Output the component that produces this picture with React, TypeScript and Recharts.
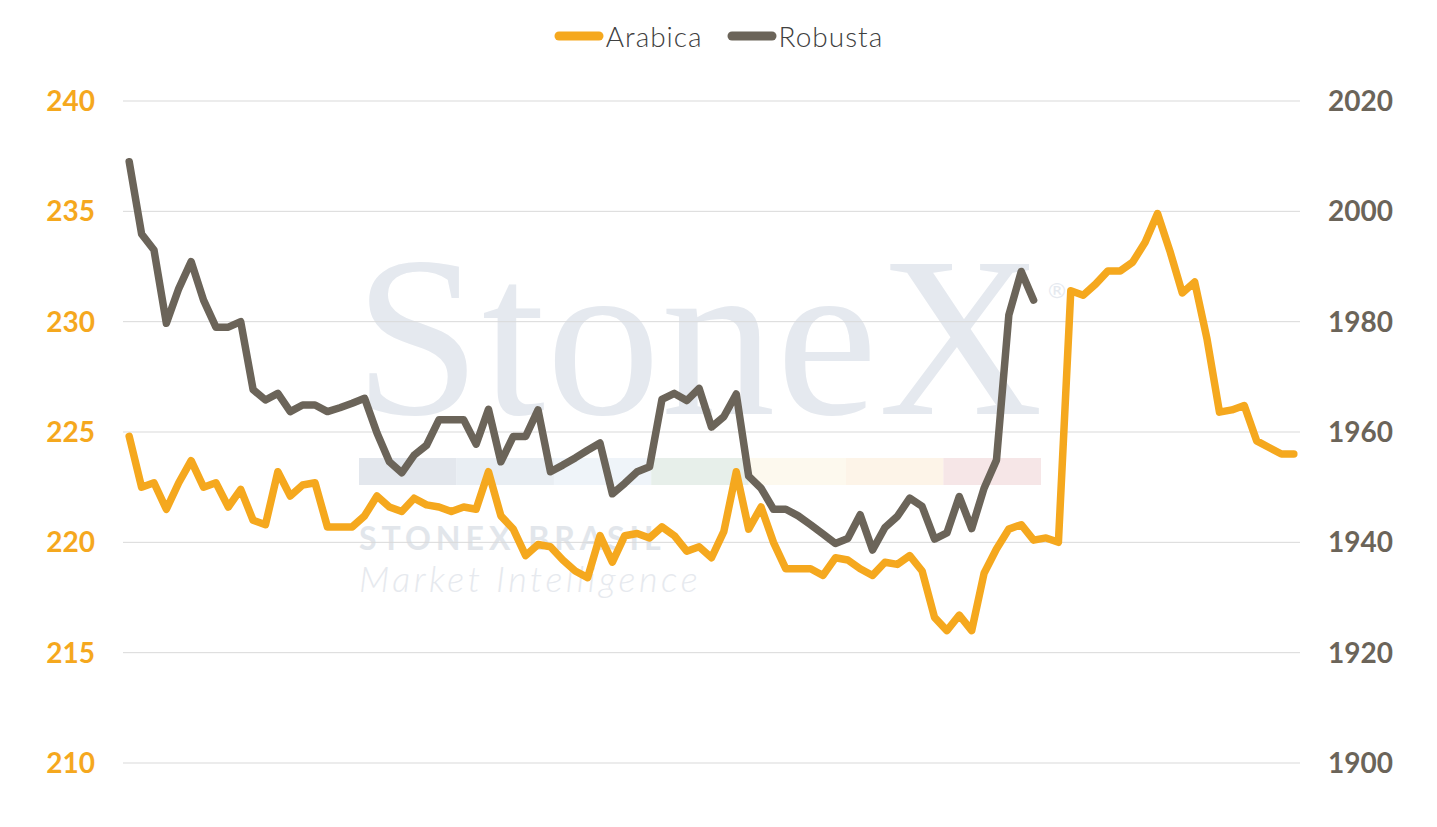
import { CartesianGrid, Legend, Line, LineChart, XAxis, YAxis } from 'recharts';

const ARABICA = [
  224.8, 222.5, 222.7, 221.5, 222.7, 223.7, 222.5, 222.7, 221.6, 222.4,
  221.0, 220.8, 223.2, 222.1, 222.6, 222.7, 220.7, 220.7, 220.7, 221.2,
  222.1, 221.6, 221.4, 222.0, 221.7, 221.6, 221.4, 221.6, 221.5, 223.2,
  221.2, 220.6, 219.4, 219.9, 219.8, 219.2, 218.7, 218.4, 220.3, 219.1,
  220.3, 220.4, 220.2, 220.7, 220.3, 219.6, 219.8, 219.3, 220.5, 223.2,
  220.6, 221.6, 220.0, 218.8, 218.8, 218.8, 218.5, 219.3, 219.2, 218.8,
  218.5, 219.1, 219.0, 219.4, 218.7, 216.6, 216.0, 216.7, 216.0, 218.6,
  219.7, 220.6, 220.8, 220.1, 220.2, 220.0, 231.4, 231.2, 231.7, 232.3,
  232.3, 232.7, 233.6, 234.9, 233.2, 231.3, 231.8, 229.2, 225.9, 226.0,
  226.2, 224.6, 224.3, 224.0, 224.0,
];

const ROBUSTA = [
  2009.0, 1995.9, 1993.0, 1979.7, 1986.0, 1990.9, 1983.9, 1979.0, 1979.0, 1980.0,
  1967.7, 1965.8, 1967.0, 1963.7, 1964.9, 1964.9, 1963.7, 1964.4, 1965.2, 1966.1,
  1959.8, 1954.6, 1952.6, 1955.8, 1957.6, 1962.2, 1962.2, 1962.2, 1957.8, 1964.1,
  1954.6, 1959.2, 1959.2, 1964.0, 1952.8, 1954.0, 1955.3, 1956.7, 1958.0, 1948.8,
  1950.7, 1952.8, 1953.7, 1965.9, 1967.0, 1965.7, 1967.9, 1960.9, 1962.8, 1966.9,
  1952.0, 1949.8, 1946.0, 1946.0, 1944.8, 1943.2, 1941.5, 1939.8, 1940.7, 1945.0,
  1938.6, 1942.7, 1944.7, 1948.0, 1946.5, 1940.6, 1941.7, 1948.3, 1942.5, 1949.8,
  1954.9, 1981.2, 1989.1, 1983.9,
];

const LEFT_TICKS = [210, 215, 220, 225, 230, 235, 240];
const RIGHT_TICKS = [1900, 1920, 1940, 1960, 1980, 2000, 2020];

const SERIES = [
  { key: 'Arabica', color: '#F5A81E' },
  { key: 'Robusta', color: '#6B6459' },
];

const STRIP_COLORS = ['#E3E7ED', '#E9EEF3', '#EFF4F9', '#E7EFEA', '#FDF9EE', '#FDF4E8', '#F6E6E7'];

const data = ARABICA.map((a, i) => ({
  idx: i,
  Arabica: a,
  Robusta: i < ROBUSTA.length ? ROBUSTA[i] : null,
}));

function TopLegend() {
  return (
    <div
      style={{
        height: 101,
        display: 'flex',
        justifyContent: 'center',
        alignItems: 'flex-start',
        paddingTop: 18,
        boxSizing: 'border-box',
        gap: 24,
        fontFamily: 'Lato, sans-serif',
        fontWeight: 300,
        fontSize: 28,
        color: '#404040',
      }}
    >
      {SERIES.map((s) => (
        <div key={s.key} style={{ display: 'flex', alignItems: 'center', height: 36 }}>
          <svg width={50} height={12} style={{ marginRight: 2 }}>
            <line x1={5} y1={6} x2={45} y2={6} stroke={s.color} strokeWidth={9} strokeLinecap="round" />
          </svg>
          <span style={{ letterSpacing: 1 }}>{s.key}</span>
        </div>
      ))}
    </div>
  );
}

function Watermark() {
  return (
    <svg width={1437} height={827} style={{ position: 'absolute', left: 0, top: 0 }}>
      <text x={354} y={414} fontFamily="Liberation Serif, serif" fontSize={228} letterSpacing={1} fill="#E5E9EF">
        StoneX
      </text>
      <text x={1046} y={298} fontFamily="DejaVu Sans, sans-serif" fontSize={22} fill="#E5E9EF">
        ®
      </text>
      {STRIP_COLORS.map((c, i) => (
        <rect key={c} x={359 + i * 97.4} y={458} width={97.6} height={27} fill={c} />
      ))}
      <text x={359} y={550} fontFamily="Lato, sans-serif" fontWeight={700} fontSize={32} letterSpacing={5} fill="#E2E6EB">
        STONEX BRASIL
      </text>
      <text x={359} y={592} fontFamily="Lato, sans-serif" fontStyle="italic" fontWeight={300} fontSize={36} letterSpacing={3.5} fill="#E6E9EE">
        Market Intelligence
      </text>
    </svg>
  );
}

export default function App() {
  return (
    <div style={{ position: 'absolute', left: 0, top: 0, width: 1437, height: 827, background: '#fff' }}>
      <Watermark />
      <div style={{ position: 'absolute', left: 0, top: 0 }}>
        <LineChart width={1437} height={827} data={data} margin={{ top: 0, right: 0, bottom: 64, left: 0 }}>
          <CartesianGrid yAxisId="left" vertical={false} stroke="#D9D9D9" />
          <XAxis dataKey="idx" type="number" domain={[-0.5, 94.5]} hide />
          <YAxis
            yAxisId="left"
            orientation="left"
            width={123}
            domain={[210, 240]}
            ticks={LEFT_TICKS}
            axisLine={false}
            tickLine={false}
            tickSize={0}
            tickMargin={28}
            tick={{ fill: '#F5A81E', fontSize: 28, fontFamily: 'Lato, sans-serif', fontWeight: 700 }}
          />
          <YAxis
            yAxisId="right"
            orientation="right"
            width={137}
            domain={[1900, 2020]}
            ticks={RIGHT_TICKS}
            axisLine={false}
            tickLine={false}
            tickSize={0}
            tickMargin={28}
            tick={{ fill: '#6B6459', fontSize: 28, fontFamily: 'Lato, sans-serif', fontWeight: 700 }}
          />
          <Legend verticalAlign="top" align="center" content={() => <TopLegend />} />
          <Line
            yAxisId="left"
            type="linear"
            dataKey="Arabica"
            stroke="#F5A81E"
            strokeWidth={7.5}
            strokeLinecap="round"
            strokeLinejoin="round"
            dot={false}
            isAnimationActive={false}
          />
          <Line
            yAxisId="right"
            type="linear"
            dataKey="Robusta"
            stroke="#6B6459"
            strokeWidth={7.5}
            strokeLinecap="round"
            strokeLinejoin="round"
            dot={false}
            connectNulls={false}
            isAnimationActive={false}
          />
        </LineChart>
      </div>
    </div>
  );
}
